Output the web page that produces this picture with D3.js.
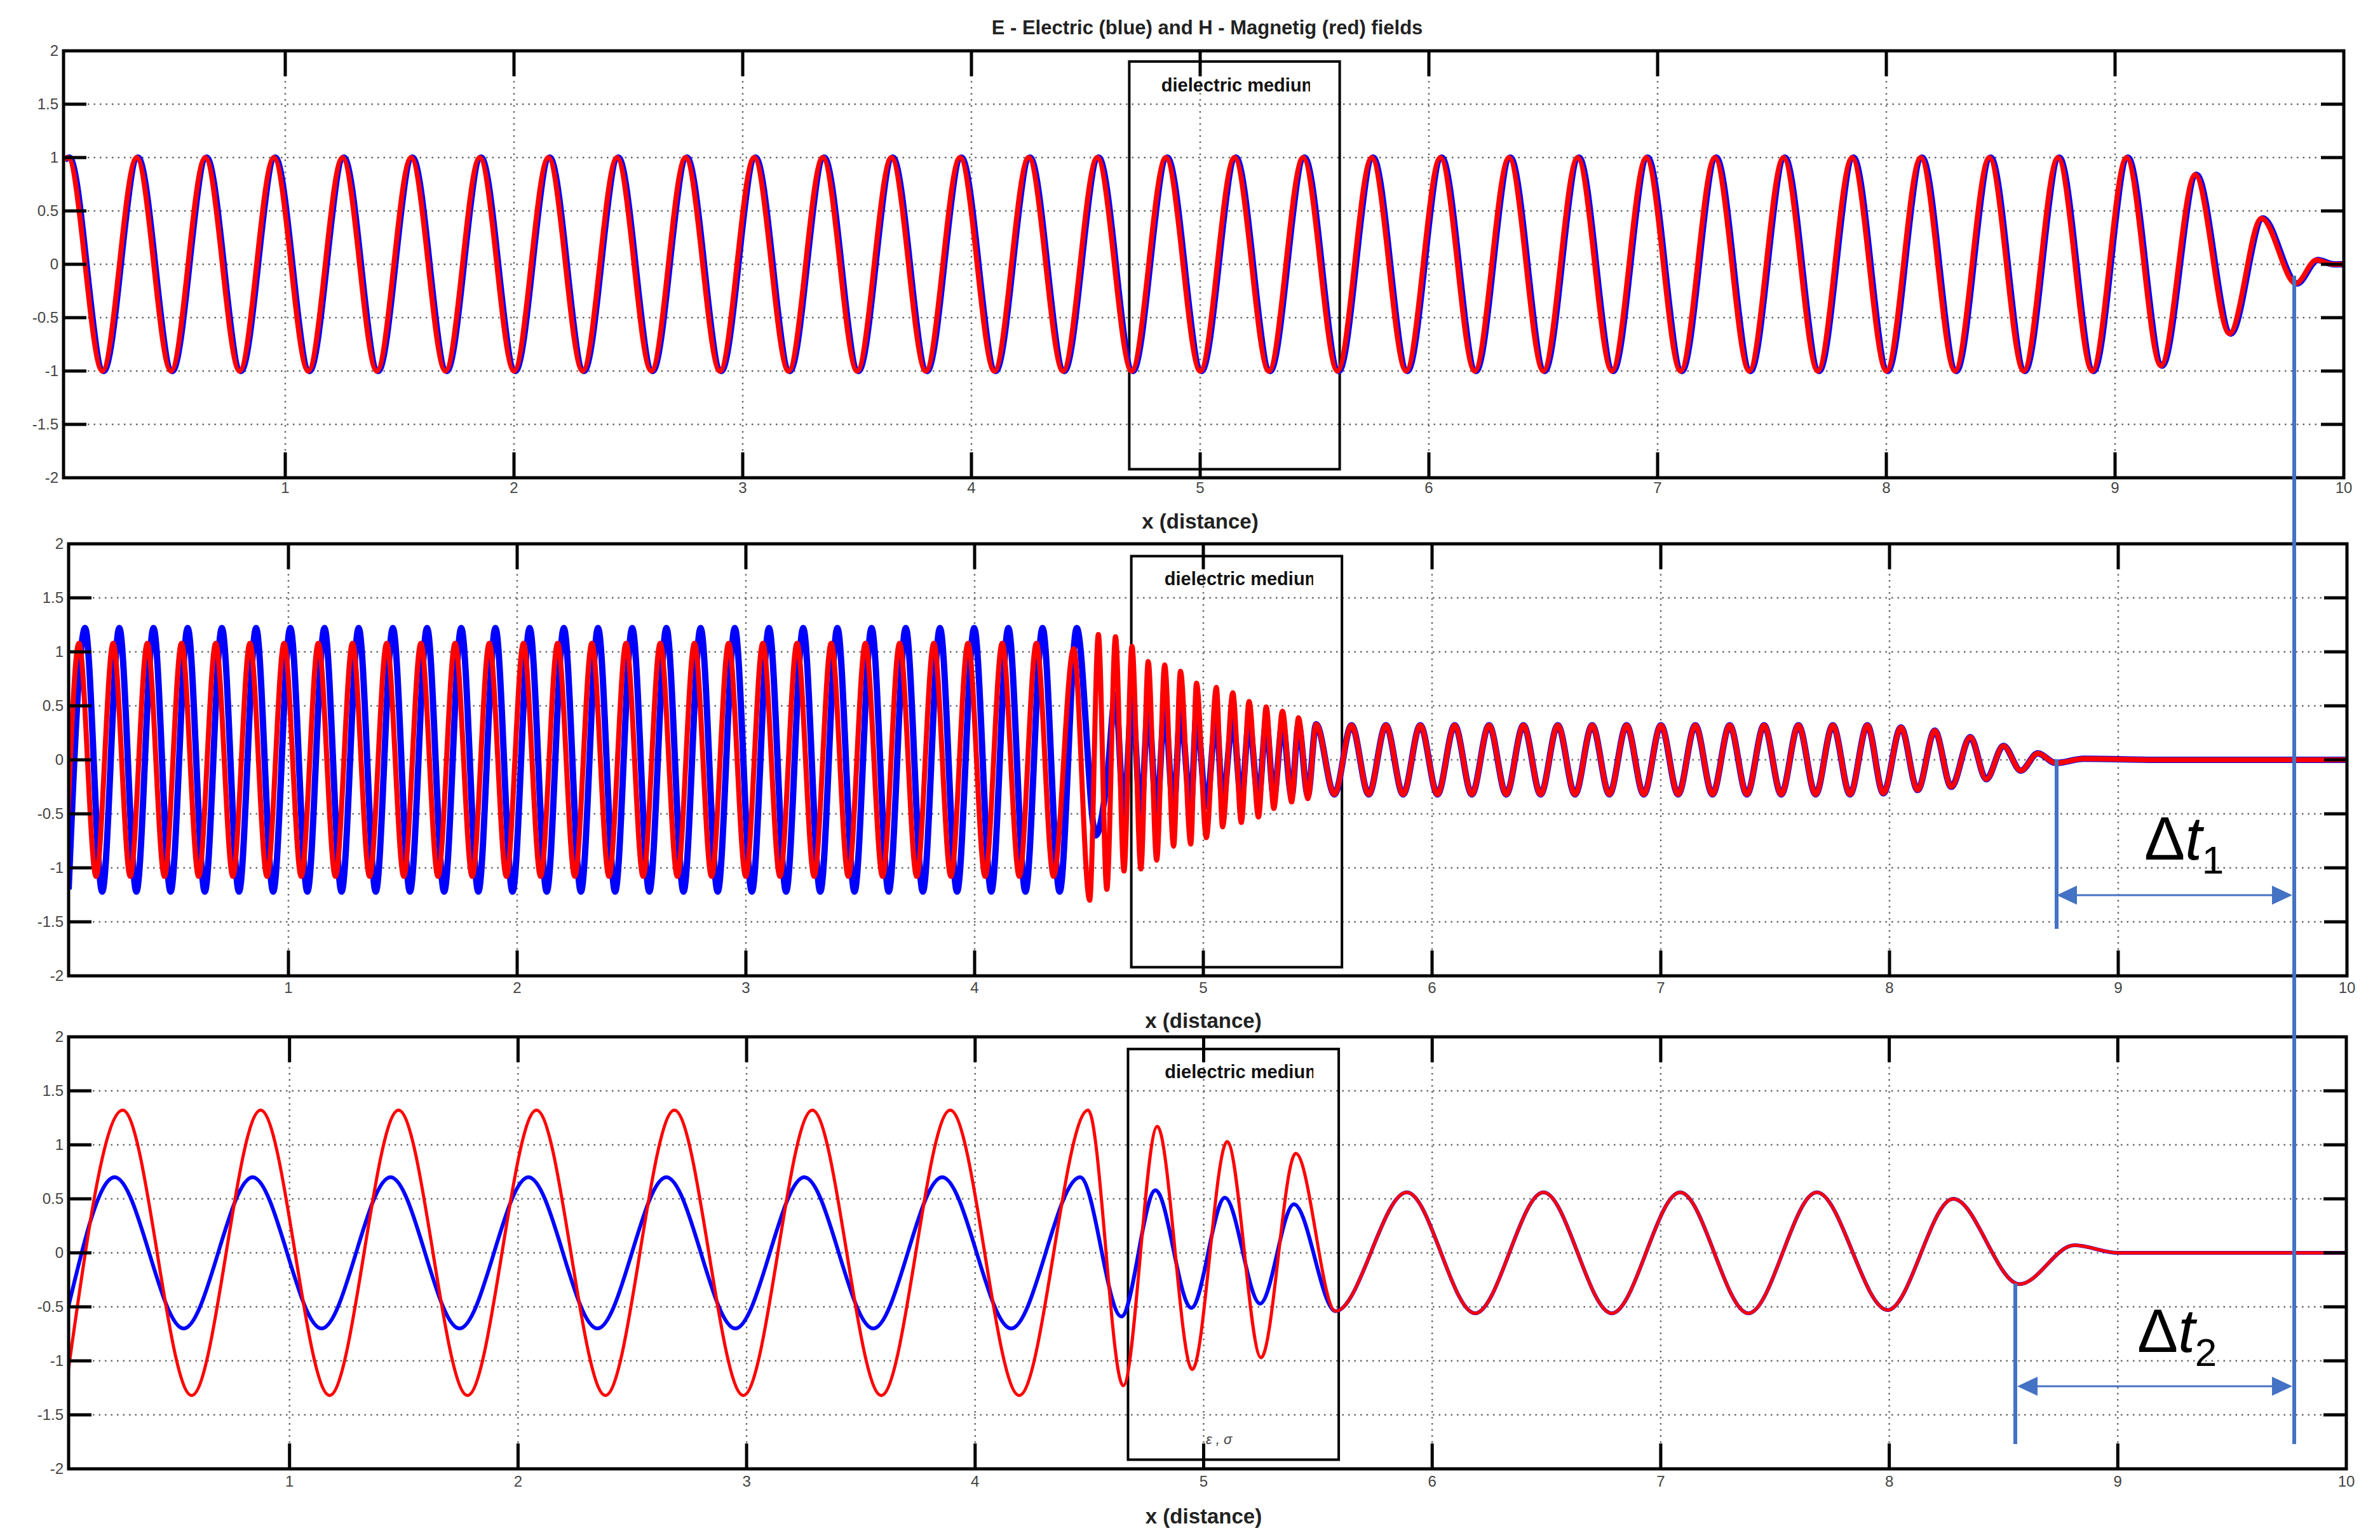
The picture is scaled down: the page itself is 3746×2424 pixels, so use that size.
<!DOCTYPE html>
<html>
<head>
<meta charset="utf-8">
<script src="https://cdn.jsdelivr.net/npm/d3@7"></script>
<style>
  body { margin: 0; background: #fff; }
  text { font-family: "Liberation Sans", Arial, sans-serif; }
</style>
</head>
<body>
<div id="container"></div>
<script>
// ---- data (extrema of each wave: [x, value]) ----
var xTicks = [1, 2, 3, 4, 5, 6, 7, 8, 9, 10];
var yTicks = [-2, -1.5, -1, -0.5, 0, 0.5, 1, 1.5, 2];
var gridY = [-1.5, -1, -0.5, 0, 0.5, 1, 1.5];
var gridX = [1, 2, 3, 4, 5, 6, 7, 8, 9];

// regular stretches: first extremum x, half period, count, amplitude, sign of first
var p1Run = [0.05, 0.15, 61, 1.0, 1];
var p1Start = [[0.03, 0.98]];
var p1Tail = [[9.2, -0.95], [9.35, 0.84], [9.5, -0.65], [9.64, 0.43], [9.79, -0.18], [9.88, 0.04], [9.95, 0], [10, 0]];

var p2RedStart = [[0.035, -0.55]];
var p2RedRun = [0.084, 0.07475, 58, 1.08, 1];
var p2RedFast = [[4.433, 1.03], [4.503, -1.30], [4.541, 1.16], [4.578, -1.2], [4.616, 1.14], [4.653, -1.03],
  [4.688, 1.05], [4.727, -1.01], [4.759, 0.91], [4.796, -0.93], [4.831, 0.88], [4.870, -0.8], [4.9, 0.82],
  [4.945, -0.78], [4.97, 0.71], [5.013, -0.72], [5.057, 0.67], [5.084, -0.62], [5.129, 0.62], [5.166, -0.58],
  [5.2, 0.54], [5.241, -0.53], [5.275, 0.49], [5.308, -0.45], [5.346, 0.45], [5.386, -0.39], [5.416, 0.39],
  [5.457, -0.36], [5.493, 0.33], [5.573, -0.32]];
var p2OutRun = [5.648, 0.07515, 30, 0.32, 1];
var p2Tail = [[7.903, 0.32], [7.973, -0.31], [8.05, 0.3], [8.123, -0.28], [8.198, 0.27], [8.27, -0.25],
  [8.353, 0.21], [8.423, -0.18], [8.498, 0.13], [8.574, -0.1], [8.648, 0.06], [8.727, -0.03], [8.85, 0.01],
  [9.2, 0], [10, 0]];
var p2BlueStart = [[0.039, -1.2]];
var p2BlueRun = [0.111, 0.07475, 59, 1.22, 1];
var p2BlueFast = [[4.53, -0.7], [4.578, -0.2], [4.616, 0.6], [4.653, -0.5], [4.688, 0.55], [4.727, -0.5], [4.759, 0.5],
  [4.796, -0.5], [4.831, 0.48], [4.87, -0.47], [4.9, 0.45], [4.945, -0.45], [4.97, 0.42], [5.013, -0.43],
  [5.057, 0.4], [5.084, -0.4], [5.129, 0.38], [5.166, -0.38], [5.2, 0.36], [5.241, -0.37], [5.275, 0.35],
  [5.308, -0.35], [5.346, 0.34], [5.386, -0.34], [5.416, 0.33], [5.457, -0.33], [5.493, 0.33], [5.573, -0.32]];

var p3RedStart = [[0.03, -1.12]];
var p3RedRun = [0.27, 0.30175, 15, 1.32, 1];
var p3RedIn = [[4.648, -1.23], [4.797, 1.17], [4.95, -1.08], [5.103, 1.03], [5.251, -0.97], [5.403, 0.92]];
var p3BlueStart = [[0.03, -0.52]];
var p3BlueRun = [0.235, 0.30175, 15, 0.7, 1];
var p3BlueIn = [[4.64, -0.59], [4.789, 0.58], [4.946, -0.51], [5.093, 0.51], [5.247, -0.47], [5.395, 0.45]];
var p3Tail = [[5.577, -0.54], [5.889, 0.56], [6.188, -0.56], [6.487, 0.56], [6.786, -0.56], [7.085, 0.56],
  [7.384, -0.56], [7.683, 0.56], [7.993, -0.53], [8.28, 0.5], [8.57, -0.29], [8.81, 0.07], [9.0, 0], [10, 0]];

var boxes = [[4.69, 5.61, 1.9, -1.92], [4.685, 5.606, 1.886, -1.92], [4.669, 5.591, 1.887, -1.915]];

// expand a regular stretch into its extrema
function run(r) {
  var out = [];
  for (var i = 0; i < r[2]; i++) out.push([r[0] + i * r[1], (i % 2 === 0 ? r[4] : -r[4]) * r[3]]);
  return out;
}

var panels = [
  { x0: 89, x1: 3689, top: 80, bottom: 752, tickY: 776, labY: 832, lw: 9,
    blue: p1Start.concat(run(p1Run), p1Tail).map(function(d) { return [d[0] + 0.006, d[1]]; }),
    red: p1Start.concat(run(p1Run), p1Tail) },
  { x0: 94, x1: 3694, top: 856, bottom: 1536, tickY: 1563, labY: 1618, lw: 9,
    blue: p2BlueStart.concat(run(p2BlueRun), p2BlueFast, run(p2OutRun), p2Tail),
    red: p2RedStart.concat(run(p2RedRun), p2RedFast, run(p2OutRun), p2Tail) },
  { x0: 96, x1: 3693, top: 1632, bottom: 2312, tickY: 2340, labY: 2398, lw: 5,
    blue: p3BlueStart.concat(run(p3BlueRun), p3BlueIn, p3Tail),
    red: p3RedStart.concat(run(p3RedRun), p3RedIn, p3Tail) }
];

var svg = d3.select("#container").append("svg").attr("width", 3746).attr("height", 2424);

svg.append("text").attr("x", 1900).attr("y", 54).attr("text-anchor", "middle")
  .attr("font-size", 31).attr("font-weight", "bold").attr("fill", "#222")
  .text("E - Electric (blue) and H - Magnetig (red) fields");

panels.forEach(function(p, pi) {
  var x = d3.scaleLinear().domain([0, 10]).range([p.x0, p.x1]);
  var xmin = x.invert(pi === 0 ? 100 : 108);
  var left = x(xmin), right = x(10);
  var y = d3.scaleLinear().domain([-2, 2]).range([p.bottom, p.top]);
  var g = svg.append("g");
  var clipId = "clip" + pi;
  g.append("clipPath").attr("id", clipId).append("rect")
    .attr("x", left).attr("y", p.top).attr("width", right - left).attr("height", p.bottom - p.top);

  // grid
  g.selectAll(".gx").data(gridX).enter().append("line")
    .attr("x1", function(d) { return x(d); }).attr("x2", function(d) { return x(d); })
    .attr("y1", p.top).attr("y2", p.bottom)
    .attr("stroke", "#666").attr("stroke-width", 2.5).attr("stroke-dasharray", "2.5,7");
  g.selectAll(".gy").data(gridY).enter().append("line")
    .attr("x1", left).attr("x2", right)
    .attr("y1", function(d) { return y(d); }).attr("y2", function(d) { return y(d); })
    .attr("stroke", "#666").attr("stroke-width", 2.5).attr("stroke-dasharray", "2.5,7");

  // dielectric box
  var b = boxes[pi];
  g.append("rect").attr("x", x(b[0])).attr("y", y(b[2]))
    .attr("width", x(b[1]) - x(b[0])).attr("height", y(b[3]) - y(b[2]))
    .attr("fill", "none").attr("stroke", "#000").attr("stroke-width", 4);
  var tc = "tclip" + pi;
  g.append("clipPath").attr("id", tc).append("rect")
    .attr("x", x(b[0])).attr("y", y(b[2])).attr("width", x(5.48) - x(b[0])).attr("height", 80);
  g.append("text").attr("x", x(4.83)).attr("y", y(1.62)).attr("font-size", 29).attr("font-weight", "bold")
    .attr("clip-path", "url(#" + tc + ")").attr("fill", "#111").text("dielectric medium");
  if (pi === 2) {
    g.append("text").attr("x", x(5.01)).attr("y", y(-1.77)).attr("font-size", 22)
      .attr("font-style", "italic").attr("fill", "#444").text("ε , σ");
  }

  // waves
  var line = d3.line().x(function(d) { return x(d[0]); }).y(function(d) { return y(d[1]); })
    .curve(d3.curveMonotoneX);
  var wg = g.append("g").attr("clip-path", "url(#" + clipId + ")");
  wg.append("path").datum(p.blue).attr("d", line).attr("fill", "none")
    .attr("stroke", "#0000ff").attr("stroke-width", p.lw + 1).attr("stroke-linejoin", "round");
  wg.append("path").datum(p.red).attr("d", line).attr("fill", "none")
    .attr("stroke", "#ff0000").attr("stroke-width", p.lw - (pi === 2 ? 0 : 1)).attr("stroke-linejoin", "round");

  // frame and inward ticks
  g.append("rect").attr("x", left).attr("y", p.top).attr("width", right - left).attr("height", p.bottom - p.top)
    .attr("fill", "none").attr("stroke", "#000").attr("stroke-width", 5);
  g.selectAll(".tx").data(gridX).enter().append("path")
    .attr("d", function(d) { return "M" + x(d) + "," + p.top + "v40M" + x(d) + "," + p.bottom + "v-40"; })
    .attr("stroke", "#000").attr("stroke-width", 5);
  g.selectAll(".ty").data(gridY).enter().append("path")
    .attr("d", function(d) { return "M" + left + "," + y(d) + "h36M" + right + "," + y(d) + "h-36"; })
    .attr("stroke", "#000").attr("stroke-width", 5);

  // tick labels
  g.selectAll(".lx").data(xTicks).enter().append("text")
    .attr("x", function(d) { return x(d); }).attr("y", p.tickY).attr("text-anchor", "middle")
    .attr("font-size", 24).attr("fill", "#444").text(function(d) { return d; });
  g.selectAll(".ly").data(yTicks).enter().append("text")
    .attr("x", left - 8).attr("y", function(d) { return y(d) + 8; }).attr("text-anchor", "end")
    .attr("font-size", 24).attr("fill", "#444").text(function(d) { return d; });
  g.append("text").attr("x", x(5)).attr("y", p.labY).attr("text-anchor", "middle")
    .attr("font-size", 33).attr("font-weight", "bold").attr("fill", "#222").text("x (distance)");
});

// delta-t annotations
var ann = svg.append("g").attr("stroke", "#4472C4");
var aBlue = "#4472C4";
ann.append("line").attr("x1", 3611).attr("x2", 3611).attr("y1", 434).attr("y2", 2273).attr("stroke-width", 6);
ann.append("line").attr("x1", 3237).attr("x2", 3237).attr("y1", 1195).attr("y2", 1462).attr("stroke-width", 6);
ann.append("line").attr("x1", 3172).attr("x2", 3172).attr("y1", 2020).attr("y2", 2273).attr("stroke-width", 6);
[[3237, 3608, 1409], [3175, 3608, 2182]].forEach(function(a) {
  ann.append("line").attr("x1", a[0] + 20).attr("x2", a[1] - 20).attr("y1", a[2]).attr("y2", a[2]).attr("stroke-width", 3);
  svg.append("path").attr("fill", aBlue)
    .attr("d", "M" + a[0] + "," + a[2] + "l32,-15v30z");
  svg.append("path").attr("fill", aBlue)
    .attr("d", "M" + a[1] + "," + a[2] + "l-32,-15v30z");
});
[[3375, 1353, "1"], [3364, 2128, "2"]].forEach(function(t) {
  var tx = svg.append("text").attr("x", t[0]).attr("y", t[1]).attr("font-size", 96)
    .attr("font-family", "DejaVu Serif, serif").attr("fill", "#000");
  tx.append("tspan").text("Δ");
  tx.append("tspan").attr("font-style", "italic").text("t");
  tx.append("tspan").attr("font-size", 62).attr("dy", 22).text(t[2]);
});
</script>
</body>
</html>
